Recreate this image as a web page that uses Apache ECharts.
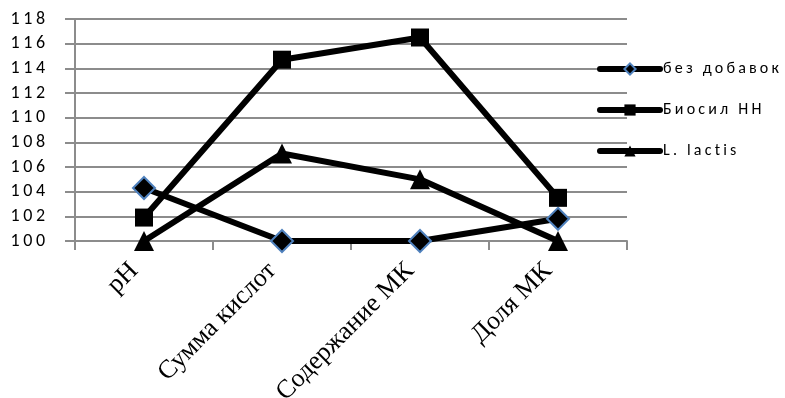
<!DOCTYPE html>
<html><head><meta charset="utf-8">
<script src="https://cdn.jsdelivr.net/npm/echarts@6/dist/echarts.min.js"></script>
<style>html,body{margin:0;padding:0;background:#fff}#c{width:785px;height:398px}</style>
</head><body><div id="c"></div>
<script>
var categories = ['pH', 'Сумма кислот', 'Содержание МК', 'Доля МК'];
var seriesNames = ['без добавок', 'Биосил НН', 'L. lactis'];
var bezDobavok = [104.3, 100, 100, 101.8];
var biosil = [101.9, 114.7, 116.5, 103.5];
var lactis = [100, 107.1, 105, 100];
var yMin = 100, yMax = 118, yStep = 2;

function spaced(s) { return String(s).split('').join('\u2009'); }

var chart = echarts.init(document.getElementById('c'));
var gray = '#8c8c8c';
chart.setOption({
  animation: false,
  grid: { left: 75, right: 158, top: 19, bottom: 157, containLabel: false, outerBoundsMode: 'none' },
  legend: {
    orient: 'vertical', left: 592, top: 56, itemGap: 25,
    itemWidth: 60, itemHeight: 14,
    lineStyle: { width: 6, color: '#000', cap: 'round' },
    textStyle: { fontFamily: 'Carlito, "Open Sans", sans-serif', fontSize: 16, color: '#000', padding: [0,0,0,-2] },
    formatter: function (n) { return spaced(n); },
    data: seriesNames
  },
  xAxis: {
    type: 'category', data: categories, boundaryGap: true,
    axisLine: { lineStyle: { color: gray, width: 2 } },
    axisTick: { show: true, length: 9, lineStyle: { color: gray, width: 2 } },
    axisLabel: { rotate: 45, margin: 16, padding: [0, 14, 0, 0], fontFamily: '"Liberation Serif", "Times New Roman", serif', fontSize: 26, color: '#000' }
  },
  yAxis: {
    type: 'value', min: yMin, max: yMax, interval: yStep,
    axisLine: { show: true, lineStyle: { color: gray, width: 2 } },
    axisTick: { show: true, length: 10, inside: false, lineStyle: { color: gray, width: 2 } },
    splitLine: { show: true, lineStyle: { color: gray, width: 2 } },
    axisLabel: { margin: 30, fontFamily: 'Carlito, "Open Sans", sans-serif', fontSize: 18, color: '#000',
      formatter: function (v) { return spaced(v); } }
  },
  series: [
    { name: seriesNames[0], type: 'line', data: bezDobavok, symbol: 'diamond', symbolSize: 22,
      lineStyle: { color: '#000', width: 6 },
      itemStyle: { color: '#000', borderColor: '#4f81bd', borderWidth: 2 } },
    { name: seriesNames[1], type: 'line', data: biosil, symbol: 'rect', symbolSize: 18,
      lineStyle: { color: '#000', width: 6 },
      itemStyle: { color: '#000' } },
    { name: seriesNames[2], type: 'line', data: lactis, symbol: 'triangle', symbolSize: 20,
      lineStyle: { color: '#000', width: 6 },
      itemStyle: { color: '#000' } }
  ]
});
</script></body></html>
